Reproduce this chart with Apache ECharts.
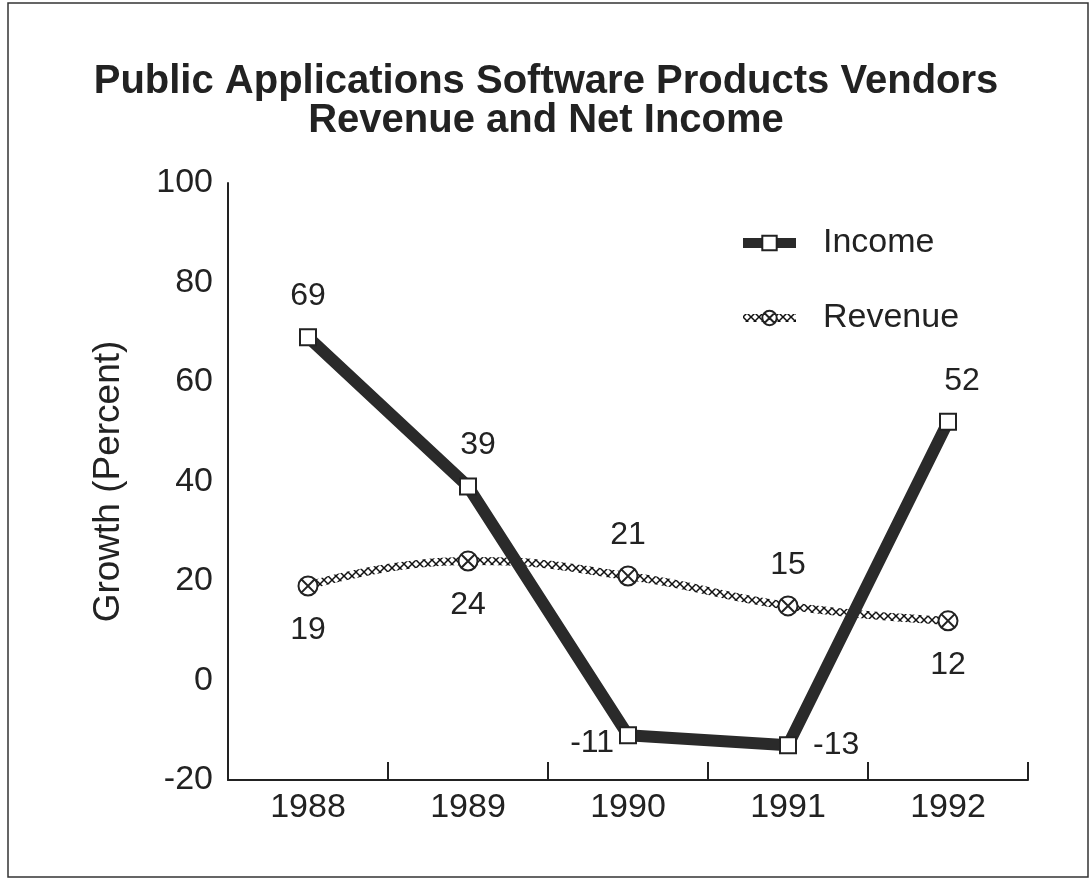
<!DOCTYPE html>
<html>
<head>
<meta charset="utf-8">
<script src="https://cdn.jsdelivr.net/npm/echarts@6/dist/echarts.min.js"></script>
<style>
  html, body { margin: 0; padding: 0; background: #fff; }
  #chart { width: 1092px; height: 880px; }
</style>
</head>
<body>
<div id="chart"></div>
<script>
const years = ['1988', '1989', '1990', '1991', '1992']
const income = [69, 39, -11, -13, 52]
const revenue = [19, 24, 21, 15, 12]
// label placement per point
const incomePos = ['top', 'top', 'left', 'right', 'top']
const incomeDist = [16, 16, 5, 16, 16]
const incomeShift = [[0, 0], [10, 0], [0, 8], [0, 0], [14, 0]]
const revenuePos = ['bottom', 'bottom', 'top', 'top', 'bottom']
const revenueDist = [18, 18, 14, 14, 18]

// small cross-hatch tile for the revenue line
function hatch() {
  const c = document.createElement('canvas')
  c.width = 8
  c.height = 8
  const ctx = c.getContext('2d')
  ctx.fillStyle = '#fff'
  ctx.fillRect(0, 0, 8, 8)
  ctx.strokeStyle = '#111'
  ctx.lineWidth = 1.5
  ctx.beginPath()
  ctx.moveTo(0, 0); ctx.lineTo(8, 8)
  ctx.moveTo(8, 0); ctx.lineTo(0, 8)
  ctx.stroke()
  return c
}
const hatchTile = hatch()

const circleX = 'path://M0,10A10,10 0 1,1 20,10A10,10 0 1,1 0,10Z M3,3L17,17M17,3L3,17'
const font = 'Liberation Sans, Arial, Helvetica, sans-serif'

const chart = echarts.init(document.getElementById('chart'))
chart.setOption({
  backgroundColor: '#fff',
  textStyle: { fontFamily: font },
  title: {
    text: 'Public Applications Software Products Vendors\nRevenue and Net Income',
    left: 'center',
    top: 57,
    textStyle: {
      fontSize: 40,
      fontWeight: 'bold',
      color: '#222',
      lineHeight: 39,
      fontFamily: font
    }
  },
  legend: {
    orient: 'vertical',
    left: 733,
    top: 221,
    itemWidth: 53,
    itemHeight: 18,
    itemGap: 41,
    textStyle: { fontSize: 34, color: '#222', padding: [0, 0, 0, 22] },
    data: [
      { name: 'Income', lineStyle: { width: 10, color: '#2a2a2a' } },
      { name: 'Revenue', lineStyle: { width: 8, color: { image: hatchTile, repeat: 'repeat' } } }
    ]
  },
  graphic: [{
    type: 'rect',
    shape: { x: 8, y: 3, width: 1080, height: 874 },
    style: { fill: 'none', stroke: '#333', lineWidth: 1.5 },
    silent: true
  }],
  grid: {
    left: 228,
    right: 64,
    top: 183,
    bottom: 100
  },
  xAxis: {
    type: 'category',
    data: years,
    boundaryGap: true,
    axisLine: { onZero: false, lineStyle: { color: '#222', width: 2 } },
    axisTick: { show: true, interval: 0, inside: true, length: 18, lineStyle: { color: '#222', width: 2 } },
    axisLabel: { fontSize: 34, color: '#222', margin: 11 }
  },
  yAxis: {
    type: 'value',
    min: -20,
    max: 100,
    interval: 20,
    name: 'Growth (Percent)',
    nameLocation: 'middle',
    nameGap: 101,
    nameTextStyle: { fontSize: 37, color: '#222' },
    axisLine: { show: true, lineStyle: { color: '#222', width: 2 } },
    axisTick: { show: false },
    splitLine: { show: false },
    axisLabel: { fontSize: 34, color: '#222', margin: 15 }
  },
  series: [{
    name: 'Income',
    type: 'line',
    data: income.map((v, i) => ({
      value: v,
      label: { position: incomePos[i], distance: incomeDist[i], offset: incomeShift[i] }
    })),
    symbol: 'rect',
    symbolSize: 16,
    lineStyle: { color: '#2a2a2a', width: 12 },
    itemStyle: { color: '#fff', borderColor: '#222', borderWidth: 2 },
    label: { show: true, fontSize: 32, color: '#222' },
    z: 3
  }, {
    name: 'Revenue',
    type: 'line',
    smooth: true,
    data: revenue.map((v, i) => ({
      value: v,
      label: { position: revenuePos[i], distance: revenueDist[i] }
    })),
    symbol: circleX,
    symbolKeepAspect: true,
    symbolSize: 19,
    lineStyle: { color: { image: hatchTile, repeat: 'repeat' }, width: 8 },
    itemStyle: { color: '#fff', borderColor: '#222', borderWidth: 2 },
    label: { show: true, fontSize: 32, color: '#222' },
    z: 2
  }]
})
</script>
</body>
</html>
